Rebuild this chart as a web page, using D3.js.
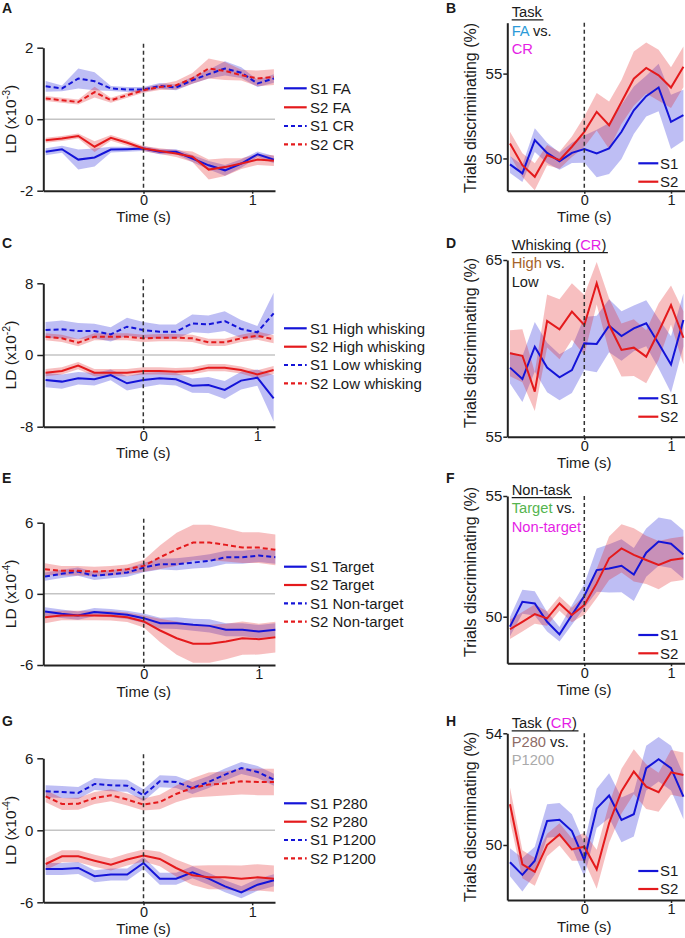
<!DOCTYPE html>
<html><head><meta charset="utf-8">
<script src="https://cdn.jsdelivr.net/npm/d3@7"></script>
<style>body{margin:0;background:#fff;overflow:hidden} svg{display:block}</style>
</head><body><svg id="c" width="685" height="938"></svg>
<script>
// ---------- time bases ----------
const timesL = [-0.9,-0.75,-0.6,-0.45,-0.3,-0.15,0,0.15,0.3,0.45,0.6,0.75,0.9,1.05,1.2];
const timesK = [-0.857,-0.714,-0.571,-0.429,-0.286,-0.143,0,0.143,0.286,0.429,0.571,0.714,0.857,1,1.143];

// ---------- A ----------
const aLegend = ["S1 FA","S2 FA","S1 CR","S2 CR"];
const aS1FA = [-0.91,-0.84,-1.13,-1.07,-0.85,-0.84,-0.82,-0.91,-0.91,-1.10,-1.29,-1.43,-1.24,-0.98,-1.13];
const aS1FAerr = [0.1,0.1,0.28,0.25,0.08,0.07,0.07,0.07,0.07,0.1,0.12,0.15,0.12,0.08,0.1];
const aS2FA = [-0.59,-0.54,-0.47,-0.77,-0.52,-0.66,-0.82,-0.89,-0.96,-1.05,-1.41,-1.34,-1.24,-1.13,-1.16];
const aS2FAerr = [0.07,0.07,0.07,0.15,0.08,0.08,0.07,0.08,0.1,0.15,0.28,0.25,0.15,0.15,0.15];
const aS1CR = [0.92,0.86,1.14,1.06,0.86,0.83,0.83,0.93,0.89,1.09,1.26,1.42,1.30,1.00,1.14];
const aS1CRerr = [0.15,0.08,0.28,0.25,0.07,0.07,0.07,0.08,0.08,0.1,0.12,0.2,0.15,0.1,0.12];
const aS2CR = [0.58,0.53,0.48,0.76,0.53,0.67,0.81,0.90,0.95,1.14,1.42,1.35,1.23,1.14,1.18];
const aS2CRerr = [0.07,0.07,0.07,0.15,0.07,0.07,0.07,0.08,0.12,0.15,0.28,0.25,0.15,0.22,0.22];
const aTicks = [-2,0,2];

// ---------- B ----------
const bS1 = [49.65,49.12,51.08,50.33,49.84,50.33,50.55,50.29,50.59,51.57,52.84,53.67,54.18,52.16,52.55];
const bS1err = [0.5,0.5,0.7,0.6,0.5,0.6,0.8,1.4,1.5,1.6,1.4,1.2,1.4,1.6,1.5];
const bS2 = [50.88,49.6,48.92,50.2,49.9,50.69,51.57,52.75,51.96,53.33,54.7,55.33,54.9,54.18,55.4];
const bS2err = [0.7,0.7,0.8,0.6,0.5,0.6,0.9,1.1,1.4,1.3,1.6,1.5,1.5,1.2,1.2];
const bTicks = [50,55];

// ---------- C ----------
const cLegend = ["S1 High whisking","S2 High whisking","S1 Low whisking","S2 Low whisking"];
const cS1H = [-2.79,-2.97,-2.60,-2.71,-2.23,-3.16,-2.79,-2.60,-2.71,-3.42,-3.35,-3.90,-2.86,-2.53,-4.83];
const cS1Herr = [0.8,0.8,0.7,0.7,0.6,0.8,0.8,0.7,0.7,0.8,0.9,1.0,1.0,0.9,2.6];
const cS2H = [-1.97,-1.78,-1.19,-1.97,-1.97,-1.97,-1.78,-1.78,-1.86,-1.78,-1.41,-1.41,-1.67,-2.16,-1.67];
const cS2Herr = [0.4,0.4,0.4,0.4,0.4,0.4,0.4,0.4,0.4,0.4,0.4,0.4,0.4,0.45,0.45];
const cS1L = [2.79,2.86,2.68,2.68,2.30,3.16,2.79,2.60,2.60,3.53,3.42,3.79,2.90,2.53,4.65];
const cS1Lerr = [0.9,1.0,0.9,0.8,0.8,1.0,0.9,0.8,0.8,1.0,1.0,1.1,1.0,0.7,2.3];
const cS2L = [2.04,1.86,1.38,2.04,2.04,2.04,1.86,1.93,1.93,1.86,1.41,1.41,1.86,2.16,1.75];
const cS2Lerr = [0.4,0.4,0.4,0.4,0.4,0.4,0.4,0.4,0.4,0.4,0.4,0.4,0.4,0.45,0.45];
const cTicks = [-8,0,8];

// ---------- D ----------
const dS1 = [58.91,58.26,60.09,58.91,58.36,58.77,60.28,60.25,61.28,60.70,61.13,61.42,60.28,59.09,61.6];
const dS1err = [0.9,1.3,1.4,1.4,1.3,1.3,1.5,1.6,1.5,1.4,1.3,1.3,1.4,1.6,1.5];
const dS2 = [59.72,59.58,57.55,61.55,61.08,62.08,61.32,63.68,61.32,59.91,60.04,59.53,60.94,62.45,60.6];
const dS2err = [1.3,1.5,1.1,1.5,1.7,1.6,1.7,1.2,1.5,1.5,1.6,1.5,1.6,1.1,1.5];
const dTicks = [55,65];

// ---------- E ----------
const eLegend = ["S1 Target","S2 Target","S1 Non-target","S2 Non-target"];
const eS1T = [-1.49,-1.68,-1.83,-1.54,-1.63,-1.77,-2.05,-2.47,-2.47,-2.61,-2.70,-3.03,-3.03,-3.17,-3.03];
const eS1Terr = [0.35,0.35,0.35,0.35,0.35,0.35,0.4,0.45,0.5,0.5,0.55,0.55,0.55,0.55,0.55];
const eS2T = [-1.97,-1.83,-1.83,-1.83,-1.85,-1.97,-2.33,-3.09,-3.74,-4.21,-4.21,-4.02,-3.74,-3.82,-3.65];
const eS2Terr = [0.5,0.4,0.4,0.4,0.4,0.4,0.5,1.0,1.4,1.6,1.6,1.5,1.4,1.3,1.3];
const eS1N = [1.46,1.69,1.88,1.52,1.66,1.80,2.22,2.50,2.50,2.64,2.78,3.09,3.09,3.23,3.09];
const eS1Nerr = [0.35,0.35,0.35,0.35,0.35,0.35,0.4,0.45,0.5,0.5,0.55,0.55,0.55,0.55,0.55];
const eS2N = [2.08,1.94,1.94,1.88,1.94,2.08,2.36,3.09,3.76,4.33,4.33,4.13,3.90,3.90,3.71];
const eS2Nerr = [0.5,0.4,0.4,0.4,0.4,0.4,0.5,1.0,1.4,1.5,1.5,1.4,1.3,1.3,1.3];
const eTicks = [-6,0,6];

// ---------- F ----------
const fS1 = [49.59,50.62,50.55,49.79,49.27,50.07,50.86,51.93,52.0,52.11,51.75,52.65,53.11,53.02,52.58];
const fS1err = [0.4,0.5,0.5,0.4,0.3,0.4,0.5,0.9,1.0,1.1,1.1,1.0,1.0,1.0,1.0];
const fS2 = [49.48,49.79,50.11,49.93,50.55,50.07,50.48,51.38,52.42,52.83,52.56,52.35,52.14,52.35,52.42];
const fS2err = [0.4,0.4,0.4,0.3,0.3,0.3,0.4,0.6,0.9,1.0,1.1,1.0,1.0,0.9,0.9];
const fTicks = [50,55];

// ---------- G ----------
const gLegend = ["S1 P280","S2 P280","S1 P1200","S2 P1200"];
const gS1P280 = [-3.22,-3.22,-3.14,-3.83,-3.69,-3.69,-2.72,-4.03,-4.03,-3.5,-4.03,-4.67,-5.17,-4.53,-4.17];
const gS1P280err = [0.5,0.5,0.5,0.5,0.5,0.5,0.5,0.5,0.5,0.5,0.5,0.5,0.5,0.5,0.5];
const gS2P280 = [-2.81,-2.17,-2.17,-2.53,-2.86,-2.44,-2.11,-2.39,-3.14,-3.75,-3.92,-3.92,-4.03,-3.92,-4.03];
const gS2P280err = [0.5,0.5,0.5,0.5,0.5,0.5,0.5,0.6,0.7,0.8,1.0,1.0,1.1,1.1,1.1];
const gS1P1200 = [3.25,3.19,3.11,3.86,3.75,3.72,2.92,4.08,4.03,3.53,4.03,4.64,5.19,4.86,4.22];
const gS1P1200err = [0.5,0.5,0.5,0.5,0.5,0.5,0.5,0.5,0.5,0.5,0.5,0.5,0.5,0.5,0.5];
const gS2P1200 = [2.83,2.19,2.22,2.69,2.92,2.56,2.14,2.36,3.03,3.53,3.81,3.89,4.08,4.03,4.03];
const gS2P1200err = [0.5,0.5,0.5,0.5,0.5,0.5,0.5,0.6,0.7,0.8,1.0,1.0,1.1,1.1,1.1];
const gTicks = [-6,0,6];

// ---------- H ----------
const hS1 = [49.38,48.93,49.44,50.86,50.90,50.50,49.46,51.31,51.77,50.90,51.10,52.75,53.07,52.75,51.73];
const hS1err = [0.5,0.6,0.5,0.6,0.6,0.6,0.6,0.7,0.8,0.8,0.8,0.8,0.8,0.8,0.8];
const hS2 = [51.46,49.31,49.04,50.0,50.38,49.84,49.94,49.13,50.78,51.93,52.63,52.09,51.89,52.60,52.51];
const hS2err = [0.6,0.5,0.5,0.4,0.4,0.4,0.5,0.7,0.7,0.8,0.8,0.8,0.7,0.8,0.8];
const hTicks = [50,54];

const xTicks = [0,1];
const rightLegend = ["S1","S2"];

// ---------- drawing ----------
const FONT = "'Liberation Sans', Arial, Helvetica, sans-serif";
const BLUE = "#1414d8", RED = "#e41a1c", INK = "#1a1a1a";
const svg = d3.select("#c").attr("font-family", FONT);

function styleAxis(g, fs){
  g.attr("font-family", FONT).attr("font-size", fs);
  g.select(".domain").attr("stroke", "#222").attr("stroke-width", 2);
  g.selectAll(".tick line").attr("stroke", "#222").attr("stroke-width", 1.5);
  g.selectAll(".tick text").attr("fill", INK);
}

function drawData(g, x, y, times, series){
  const area = d3.area().x(d => x(d.t)).y0(d => y(d.v - d.e)).y1(d => y(d.v + d.e));
  const line = d3.line().x(d => x(d.t)).y(d => y(d.v));
  const rows = series.map(s => s.v.map((v, i) => ({t: times[i], v: v, e: s.e[i]})));
  series.forEach((s, k) => {
    g.append("path").attr("d", area(rows[k])).attr("fill", s.c).attr("fill-opacity", 0.28).attr("stroke", "none");
  });
  return () => series.forEach((s, k) => {
    g.append("path").attr("d", line(rows[k])).attr("fill", "none").attr("stroke", s.c)
      .attr("stroke-width", 2).attr("stroke-dasharray", s.d ? "5,3" : null);
  });
}

function panelLabel(t, x, y){
  svg.append("text").attr("x", x).attr("y", y).attr("font-size", 14).attr("font-weight", "bold").attr("fill", INK).text(t);
}

function xAxis(g, x, yBot){
  const xa = g.append("g").attr("transform", `translate(0,${yBot})`)
    .call(d3.axisBottom(x).tickValues(xTicks).tickSize(3).tickPadding(1).tickSizeOuter(0).tickFormat(d => String(d)));
  styleAxis(xa, 14.5);
  g.append("text").attr("x", x(0)).attr("y", yBot + 31.5).attr("text-anchor", "middle")
    .attr("font-size", 15).attr("fill", INK).text("Time (s)");
}

function leftPanel(o){
  const g = svg.append("g");
  const x = d3.scaleLinear().domain(o.xdom).range([43.3, 275]);
  const y = d3.scaleLinear().domain([-o.ymax, o.ymax]).range([o.yBot, o.yTop]);
  const drawLines = drawData(g, x, y, o.times, o.series);
  g.append("line").attr("x1", 43.3).attr("x2", 275).attr("y1", y(0)).attr("y2", y(0))
    .attr("stroke", "#c4c4c4").attr("stroke-width", 1.5);
  drawLines();
  g.append("line").attr("x1", x(0)).attr("x2", x(0)).attr("y1", o.yTop - 4).attr("y2", o.yBot)
    .attr("stroke", "#333").attr("stroke-width", 1.5).attr("stroke-dasharray", "4,3");
  const ya = g.append("g").attr("transform", "translate(43.3,0)")
    .call(d3.axisLeft(y).tickValues(o.ticks).tickSize(6).tickPadding(4).tickSizeOuter(0).tickFormat(d => String(d)));
  styleAxis(ya, 15);
  xAxis(g, x, o.yBot);
  const yl = g.append("text").attr("transform", `translate(15.5,${y(0)}) rotate(-90)`)
    .attr("text-anchor", "middle").attr("font-size", 15.5).attr("fill", INK);
  yl.append("tspan").text("LD (x10");
  yl.append("tspan").attr("font-size", 10.5).attr("dy", -6).text(o.exp);
  yl.append("tspan").attr("dy", 6).text(")");
  // legend
  o.legend.forEach((lab, i) => {
    const s = o.series[i], ly = o.legendY[i];
    g.append("line").attr("x1", 284).attr("x2", 306.7).attr("y1", ly).attr("y2", ly)
      .attr("stroke", s.c).attr("stroke-width", 2.2).attr("stroke-dasharray", s.d ? "4,3" : null);
    g.append("text").attr("x", 310).attr("y", ly).attr("dy", "0.35em").attr("font-size", 15)
      .attr("fill", INK).text(lab);
  });
  panelLabel(o.label, 2, o.labelY);
}

function rightPanel(o){
  const g = svg.append("g");
  const x = d3.scaleLinear().domain([-0.888, 1.219]).range([507.3, 690]);
  const y = d3.scaleLinear().domain(o.ydom).range([o.yBot, o.yTop]);
  const drawLines = drawData(g, x, y, timesK, o.series);
  drawLines();
  g.append("line").attr("x1", x(0)).attr("x2", x(0)).attr("y1", o.yTop).attr("y2", o.yBot)
    .attr("stroke", "#333").attr("stroke-width", 1.5).attr("stroke-dasharray", "4,3");
  const ya = g.append("g").attr("transform", "translate(507.3,0)")
    .call(d3.axisLeft(y).tickValues(o.ticks).tickSize(4).tickPadding(1).tickSizeOuter(0).tickFormat(d => String(d)));
  styleAxis(ya, 15);
  xAxis(g, x, o.yBot);
  g.append("text").attr("transform", `translate(476,${o.ylabY}) rotate(-90)`)
    .attr("text-anchor", "middle").attr("font-size", 16).attr("fill", INK).text("Trials discriminating (%)");
  // title block
  o.title.forEach((segs, i) => {
    const t = g.append("text").attr("x", 511.7).attr("y", o.titleY[i]).attr("font-size", 14.7);
    segs.forEach(sg => t.append("tspan").attr("fill", sg[1]).text(sg[0]));
    if (i === 0) {
      const w = t.node().getComputedTextLength();
      g.append("line").attr("x1", 511.7).attr("x2", 511.7 + w + 1.5)
        .attr("y1", o.titleY[0] + 2.6).attr("y2", o.titleY[0] + 2.6)
        .attr("stroke", INK).attr("stroke-width", 1.2);
    }
  });
  // legend
  rightLegend.forEach((lab, i) => {
    const ly = o.legendY[i];
    g.append("line").attr("x1", 638.3).attr("x2", 658.3).attr("y1", ly).attr("y2", ly)
      .attr("stroke", o.series[i].c).attr("stroke-width", 2.2);
    g.append("text").attr("x", 660).attr("y", ly).attr("dy", "0.35em").attr("font-size", 15)
      .attr("fill", INK).text(lab);
  });
  panelLabel(o.label, 446, o.labelY);
}

const MAG = "#e51ee5";

leftPanel({label:"A", labelY:13, yTop:47.7, yBot:190.7, ymax:2, exp:"-3", ticks:aTicks,
  xdom:[-0.922,1.21], times:timesL, legend:aLegend, legendY:[88.3,107.3,126,144.3],
  series:[{v:aS1FA,e:aS1FAerr,c:BLUE,d:false},{v:aS2FA,e:aS2FAerr,c:RED,d:false},
          {v:aS1CR,e:aS1CRerr,c:BLUE,d:true},{v:aS2CR,e:aS2CRerr,c:RED,d:true}]});

leftPanel({label:"C", labelY:248, yTop:283.3, yBot:426.7, ymax:8, exp:"-2", ticks:cTicks,
  xdom:[-0.877,1.155], times:timesK, legend:cLegend, legendY:[328.3,346.7,365,383.3],
  series:[{v:cS1H,e:cS1Herr,c:BLUE,d:false},{v:cS2H,e:cS2Herr,c:RED,d:false},
          {v:cS1L,e:cS1Lerr,c:BLUE,d:true},{v:cS2L,e:cS2Lerr,c:RED,d:true}]});

leftPanel({label:"E", labelY:483, yTop:522.7, yBot:665, ymax:6, exp:"-4", ticks:eTicks,
  xdom:[-0.872,1.14], times:timesK, legend:eLegend, legendY:[566.7,585,603.3,621.7],
  series:[{v:eS1T,e:eS1Terr,c:BLUE,d:false},{v:eS2T,e:eS2Terr,c:RED,d:false},
          {v:eS1N,e:eS1Nerr,c:BLUE,d:true},{v:eS2N,e:eS2Nerr,c:RED,d:true}]});

leftPanel({label:"G", labelY:726, yTop:758.3, yBot:902.3, ymax:6, exp:"-4", ticks:gTicks,
  xdom:[-0.922,1.21], times:timesL, legend:gLegend, legendY:[803.3,821.7,840,858.3],
  series:[{v:gS1P280,e:gS1P280err,c:BLUE,d:false},{v:gS2P280,e:gS2P280err,c:RED,d:false},
          {v:gS1P1200,e:gS1P1200err,c:BLUE,d:true},{v:gS2P1200,e:gS2P1200err,c:RED,d:true}]});

rightPanel({label:"B", labelY:13, ydom:[48.1,58], yTop:22.7, yBot:190.7, ticks:bTicks, ylabY:108,
  titleY:[17.3,35.7,54], legendY:[163.3,181.7],
  title:[[["Task",INK]],[["FA","#2b9ad8"],[" vs.",INK]],[["CR",MAG]]],
  series:[{v:bS1,e:bS1err,c:BLUE},{v:bS2,e:bS2err,c:RED}]});

rightPanel({label:"D", labelY:248, ydom:[55,65], yTop:260, yBot:436.7, ticks:dTicks, ylabY:343,
  titleY:[250,268.3,286.7], legendY:[398.3,416.7],
  title:[[["Whisking (",INK],["CR",MAG],[")",INK]],[["High","#a5622a"],[" vs.",INK]],[["Low",INK]]],
  series:[{v:dS1,e:dS1err,c:BLUE},{v:dS2,e:dS2err,c:RED}]});

rightPanel({label:"F", labelY:483, ydom:[48.07,55], yTop:496, yBot:663.3, ticks:fTicks, ylabY:572,
  titleY:[495,513.3,531.7], legendY:[635,653.3],
  title:[[["Non-task",INK]],[["Target","#55b54f"],[" vs.",INK]],[["Non-target",MAG]]],
  series:[{v:fS1,e:fS1err,c:BLUE},{v:fS2,e:fS2err,c:RED}]});

rightPanel({label:"H", labelY:726, ydom:[48.03,54], yTop:733.3, yBot:900, ticks:hTicks, ylabY:817,
  titleY:[728.3,746.7,765], legendY:[871,889],
  title:[[["Task (",INK],["CR",MAG],[")",INK]],[["P280","#8e6b66"],[" vs.",INK]],[["P1200","#aaaaaa"]]],
  series:[{v:hS1,e:hS1err,c:BLUE},{v:hS2,e:hS2err,c:RED}]});
</script>
</body></html>
